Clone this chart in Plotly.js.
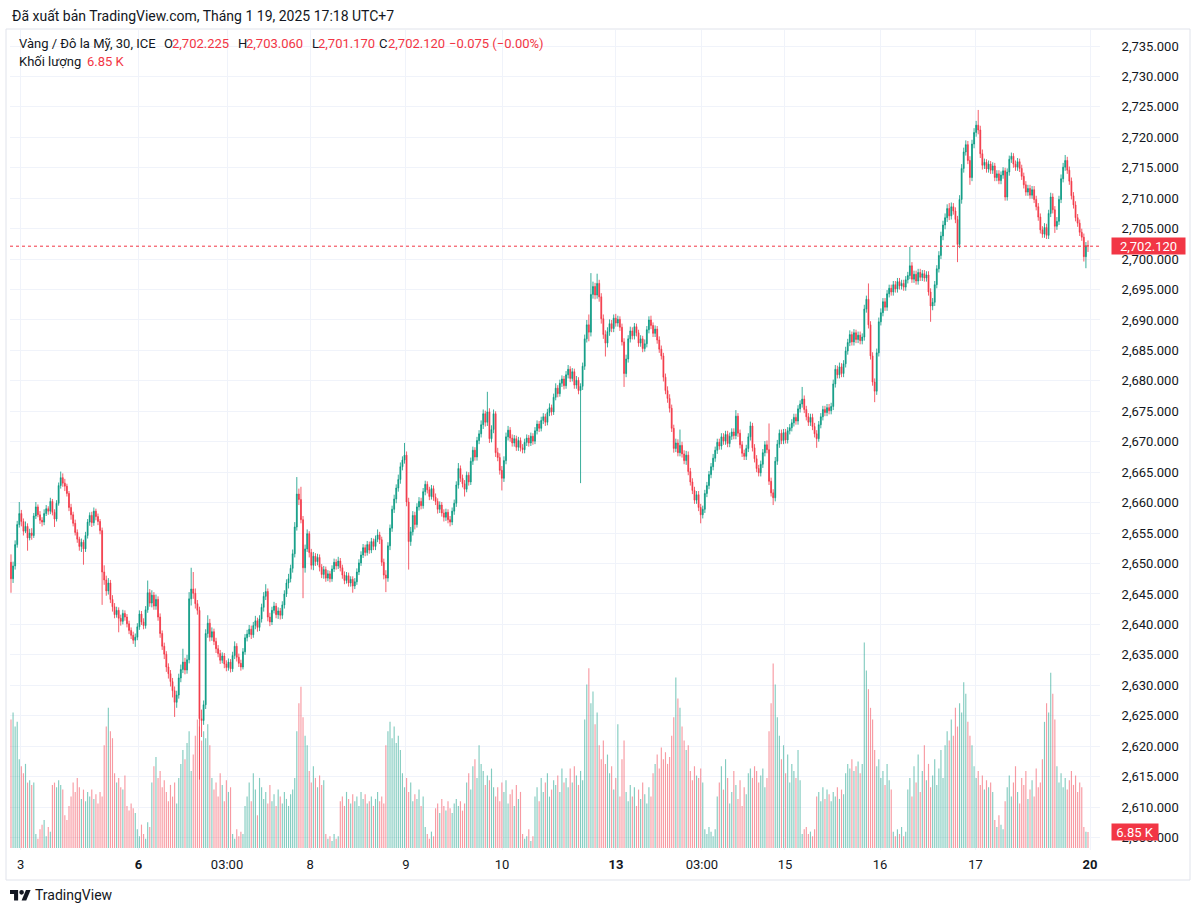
<!DOCTYPE html>
<html><head><meta charset="utf-8">
<script src="https://cdn.plot.ly/plotly-3.0.1.min.js"></script>
<style>html,body{margin:0;padding:0;background:#fff}#chart{width:1200px;height:913px}</style>
</head><body><div id="chart"></div>
<script>
// 30-minute candles, Vàng / Đô la Mỹ (ICE), 2–17 Jan 2025
const openP = [
2650.2,2647.5,2649.6,2653.1,2656.4,2658.2,2656.9,2655.3,2656.1,2654.2,
2655.0,2654.6,2657.8,2659.3,2658.0,2657.1,2656.8,2658.2,2659.0,2658.6,
2660.2,2658.4,2657.3,2659.9,2662.8,2664.1,2663.2,2662.7,2661.5,2659.2,
2658.0,2656.6,2655.1,2654.0,2652.8,2653.5,2652.4,2654.6,2656.8,2657.9,
2656.7,2658.6,2657.7,2656.9,2655.4,2648.6,2647.3,2645.5,2646.8,2644.1,
2642.9,2641.6,2642.3,2641.0,2640.5,2641.8,2641.2,2640.1,2639.0,2638.2,
2637.4,2637.9,2639.6,2641.7,2640.4,2639.8,2642.4,2645.2,2643.5,2644.8,
2643.0,2644.1,2641.2,2638.5,2636.4,2635.1,2633.0,2631.9,2630.6,2629.1,
2627.2,2628.4,2631.2,2632.6,2633.8,2632.5,2634.2,2644.2,2645.8,2645.1,
2643.4,2642.3,2624.5,2624.2,2626.8,2638.5,2640.2,2637.9,2638.8,2637.2,
2636.0,2635.2,2634.1,2634.8,2633.5,2632.9,2633.8,2632.7,2634.9,2636.4,
2634.6,2633.6,2633.0,2635.5,2637.8,2638.4,2639.2,2638.3,2639.8,2640.6,
2639.5,2640.9,2642.8,2644.6,2645.4,2641.2,2640.4,2642.3,2643.0,2641.6,
2642.2,2641.5,2643.2,2645.0,2646.8,2647.5,2649.2,2651.6,2656.0,2661.4,
2660.5,2657.2,2649.3,2652.4,2654.9,2651.8,2649.7,2651.2,2650.3,2651.0,
2649.4,2648.2,2649.0,2647.6,2648.3,2647.5,2649.1,2650.2,2649.6,2650.4,
2649.3,2648.1,2647.2,2648.0,2646.8,2647.4,2646.3,2647.0,2648.6,2650.1,
2651.4,2652.6,2651.8,2653.1,2652.2,2653.6,2652.8,2654.0,2654.7,2653.9,
2650.2,2648.1,2647.6,2652.9,2655.8,2658.9,2660.6,2662.4,2663.8,2665.9,
2667.0,2667.8,2660.1,2653.6,2655.2,2657.9,2656.4,2659.3,2660.2,2659.5,
2661.8,2663.0,2662.1,2661.0,2662.3,2660.9,2660.2,2658.9,2659.6,2658.3,
2657.6,2658.4,2657.2,2656.8,2658.6,2659.9,2662.9,2665.6,2664.0,2663.1,
2662.2,2664.5,2663.4,2666.8,2668.6,2667.5,2670.2,2671.3,2672.8,2674.6,
2673.2,2674.9,2670.5,2672.0,2674.6,2668.2,2667.4,2665.3,2664.0,2666.9,
2670.8,2671.9,2670.6,2669.8,2670.5,2669.1,2670.2,2669.0,2668.7,2669.9,
2670.6,2669.8,2670.9,2670.1,2671.8,2672.9,2672.2,2673.5,2674.1,2673.2,
2674.8,2675.6,2674.9,2677.3,2678.8,2677.9,2679.6,2680.3,2679.2,2681.0,
2681.9,2680.4,2681.5,2679.3,2680.1,2678.4,2679.1,2682.4,2686.9,2689.2,
2688.0,2694.2,2695.5,2694.1,2696.0,2693.8,2690.2,2687.6,2686.2,2688.1,
2689.4,2688.6,2690.3,2689.5,2690.1,2688.8,2686.4,2681.2,2683.6,2686.9,
2688.2,2687.4,2688.9,2687.9,2686.2,2686.9,2685.3,2686.1,2688.4,2690.0,
2689.1,2687.8,2688.5,2686.7,2685.2,2684.1,2680.6,2678.4,2677.1,2675.5,
2672.2,2668.9,2669.8,2668.2,2669.4,2668.0,2666.9,2667.8,2665.1,2663.4,
2662.0,2660.4,2661.3,2659.2,2658.0,2658.9,2661.5,2662.8,2664.6,2665.9,
2667.3,2668.6,2669.9,2669.3,2670.8,2670.1,2671.2,2669.7,2670.9,2671.6,
2671.0,2674.2,2671.4,2669.5,2668.1,2667.6,2668.9,2670.8,2672.6,2669.0,
2667.2,2665.6,2664.9,2666.3,2668.2,2669.5,2668.7,2663.5,2661.6,2660.8,
2666.8,2669.6,2671.4,2670.2,2671.5,2670.3,2671.8,2672.3,2673.1,2674.0,
2673.4,2675.4,2676.2,2677.0,2675.3,2674.1,2673.2,2674.0,2672.5,2671.3,
2670.5,2672.8,2674.1,2675.3,2674.8,2675.6,2675.1,2675.8,2679.5,2681.9,
2681.0,2682.3,2681.2,2682.8,2684.9,2686.3,2687.6,2686.4,2687.9,2686.8,
2687.5,2686.6,2687.2,2691.8,2693.4,2689.2,2684.1,2679.8,2678.3,2684.6,
2689.7,2691.2,2693.0,2692.1,2694.3,2695.2,2694.6,2695.8,2695.1,2696.3,
2695.6,2696.0,2695.4,2696.6,2697.3,2698.9,2696.7,2697.5,2696.4,2697.8,
2697.0,2697.6,2696.9,2697.4,2694.6,2692.3,2692.9,2695.8,2698.4,2700.6,
2703.8,2705.6,2706.8,2708.3,2707.1,2708.6,2707.9,2706.5,2702.4,2709.8,
2714.9,2717.6,2718.8,2716.2,2713.4,2718.9,2720.8,2722.0,2721.2,2717.3,
2715.4,2715.9,2714.8,2715.6,2714.6,2715.3,2713.4,2714.0,2712.9,2713.8,
2714.5,2710.2,2714.3,2716.4,2716.9,2715.6,2715.1,2716.0,2714.9,2713.6,
2712.2,2711.0,2711.6,2710.5,2711.4,2709.8,2708.6,2706.9,2704.8,2704.1,
2705.2,2703.9,2707.5,2710.2,2708.1,2705.4,2706.2,2709.8,2713.2,2715.1,
2716.2,2714.6,2712.8,2710.4,2708.9,2706.8,2705.9,2704.4,2703.6,2700.4,2702.225
];
const highP = [
2651.5,2650.3,2653.8,2657.0,2660.1,2658.8,2657.4,2656.9,2656.6,2655.7,
2655.8,2658.3,2660.1,2659.7,2658.6,2657.6,2658.9,2659.6,2659.4,2660.8,
2660.6,2658.9,2660.4,2663.3,2665.1,2664.8,2663.9,2663.1,2661.9,2659.8,
2658.5,2657.2,2655.6,2654.4,2654.1,2653.9,2655.2,2657.3,2658.4,2658.5,
2659.2,2659.0,2658.2,2657.3,2655.9,2649.7,2648.0,2647.6,2647.3,2644.8,
2643.5,2642.9,2642.8,2641.6,2642.4,2642.3,2641.7,2640.6,2639.5,2638.8,
2638.5,2640.2,2642.3,2642.2,2641.0,2643.0,2647.2,2645.8,2645.6,2645.3,
2644.9,2644.6,2641.8,2639.0,2637.0,2635.6,2633.6,2632.5,2631.2,2629.8,
2629.1,2631.9,2633.4,2636.0,2634.5,2635.0,2645.3,2649.3,2648.6,2645.9,
2644.0,2642.9,2626.0,2627.5,2639.2,2641.5,2640.9,2639.5,2639.3,2637.8,
2636.6,2635.8,2635.4,2635.3,2634.1,2634.4,2634.3,2635.5,2637.2,2636.9,
2635.2,2634.2,2636.1,2638.4,2639.1,2639.9,2639.8,2640.4,2641.4,2641.1,
2641.5,2643.4,2645.3,2646.6,2645.9,2641.9,2642.9,2643.7,2643.5,2642.8,
2642.7,2643.8,2645.6,2647.4,2648.3,2649.8,2652.3,2656.8,2664.2,2662.3,
2662.6,2657.8,2653.1,2655.6,2655.3,2652.4,2651.9,2651.7,2651.6,2651.5,
2649.9,2649.6,2649.5,2648.9,2648.8,2649.7,2650.8,2650.7,2651.1,2650.9,
2649.8,2648.7,2648.6,2648.5,2647.9,2647.9,2647.6,2649.2,2650.7,2652.0,
2653.2,2653.1,2653.7,2653.6,2654.2,2654.1,2654.6,2655.6,2655.2,2654.4,
2650.8,2648.9,2653.5,2656.4,2659.5,2661.3,2663.0,2664.6,2666.6,2667.6,
2669.8,2668.4,2660.8,2656.0,2658.6,2658.5,2659.9,2660.9,2660.8,2662.4,
2663.6,2663.5,2662.6,2662.9,2662.8,2661.5,2660.7,2660.2,2660.1,2658.9,
2659.0,2658.9,2657.8,2659.2,2660.5,2663.5,2666.5,2666.1,2664.6,2663.7,
2665.1,2665.0,2667.4,2669.2,2669.1,2670.8,2671.9,2673.5,2675.3,2675.1,
2678.2,2675.5,2672.7,2675.3,2675.0,2669.0,2668.1,2666.0,2667.6,2671.5,
2672.6,2672.4,2671.2,2671.1,2671.0,2670.8,2670.7,2669.6,2670.5,2671.2,
2671.1,2671.5,2671.4,2672.4,2673.5,2673.4,2674.1,2674.7,2674.6,2675.4,
2676.3,2676.1,2677.9,2679.6,2679.3,2680.2,2680.9,2680.8,2681.6,2682.6,
2682.4,2682.1,2682.0,2680.8,2680.6,2679.6,2683.0,2687.6,2690.0,2690.9,
2697.7,2696.3,2696.1,2697.6,2696.6,2694.4,2690.9,2688.3,2688.8,2690.1,
2690.0,2690.9,2691.0,2690.7,2690.6,2689.4,2687.0,2684.3,2687.5,2688.9,
2688.8,2689.5,2689.4,2688.4,2687.5,2687.4,2686.8,2689.0,2690.6,2690.7,
2689.6,2689.1,2689.0,2687.3,2685.8,2684.6,2681.2,2679.1,2677.8,2676.1,
2672.8,2670.5,2670.4,2672.0,2670.0,2668.6,2668.5,2668.4,2665.7,2664.0,
2662.6,2661.9,2661.9,2659.8,2659.5,2662.1,2663.4,2665.2,2666.5,2668.0,
2669.2,2670.5,2670.5,2671.4,2671.4,2671.8,2671.8,2671.5,2672.2,2672.2,
2675.2,2674.7,2672.0,2670.1,2668.7,2669.5,2671.4,2673.3,2673.1,2669.6,
2667.8,2666.2,2666.9,2668.8,2670.1,2670.2,2673.0,2664.1,2662.2,2667.5,
2670.3,2672.0,2672.0,2672.1,2672.1,2672.4,2672.9,2673.7,2674.6,2674.6,
2676.0,2676.8,2679.0,2677.6,2675.9,2674.7,2674.6,2674.6,2673.1,2671.9,
2673.4,2674.7,2675.9,2675.9,2676.2,2676.2,2676.4,2680.2,2682.6,2682.5,
2683.0,2682.9,2683.4,2685.6,2686.9,2688.3,2688.1,2688.5,2688.4,2688.1,
2688.1,2687.8,2692.5,2694.0,2696.0,2689.8,2684.7,2680.4,2685.3,2690.4,
2691.9,2693.6,2693.6,2694.9,2695.8,2695.8,2696.4,2696.4,2696.9,2696.9,
2696.6,2696.6,2697.2,2697.9,2702.0,2699.5,2698.1,2698.1,2698.4,2698.4,
2698.2,2698.2,2698.0,2698.0,2695.2,2693.6,2696.4,2699.0,2701.3,2704.5,
2706.3,2707.5,2709.0,2709.2,2709.3,2709.2,2708.5,2707.1,2710.5,2715.6,
2718.3,2719.5,2719.4,2716.9,2719.6,2721.5,2722.7,2724.5,2721.9,2718.0,
2716.5,2716.4,2716.2,2716.1,2715.9,2715.8,2714.6,2714.6,2714.4,2715.1,
2715.0,2714.9,2717.0,2717.5,2717.4,2716.2,2716.6,2716.5,2715.5,2714.2,
2712.8,2712.2,2712.2,2712.0,2712.0,2710.4,2709.2,2707.5,2705.4,2705.9,
2705.8,2708.1,2710.9,2710.8,2708.7,2706.9,2710.4,2713.9,2715.8,2717.1,
2716.8,2715.2,2713.4,2711.0,2709.5,2707.4,2706.5,2705.0,2704.2,2702.8,2703.06
];
const lowP = [
2645.2,2646.8,2649.0,2652.6,2655.9,2656.1,2654.6,2655.0,2652.1,2653.8,
2653.9,2654.2,2657.3,2657.6,2656.5,2656.1,2656.3,2657.8,2658.0,2658.1,
2657.9,2656.0,2656.9,2659.5,2662.3,2662.6,2661.9,2661.0,2658.6,2657.2,
2656.1,2654.6,2653.4,2652.1,2651.9,2649.8,2651.9,2654.1,2656.2,2656.0,
2656.2,2657.1,2656.3,2654.8,2643.2,2646.5,2644.7,2644.9,2643.5,2642.1,
2641.0,2641.1,2638.7,2639.8,2640.0,2640.6,2639.5,2638.4,2637.6,2636.8,
2636.3,2637.4,2639.1,2639.9,2639.2,2639.3,2641.9,2642.9,2642.8,2642.4,
2642.4,2640.6,2637.8,2635.8,2634.3,2632.2,2631.1,2629.8,2628.0,2624.8,
2626.3,2627.8,2630.5,2632.0,2631.8,2631.9,2633.6,2643.1,2644.2,2642.6,
2641.6,2614.5,2621.5,2623.5,2626.1,2637.8,2637.2,2637.3,2636.6,2635.3,
2634.6,2633.5,2633.6,2632.8,2632.3,2632.4,2632.1,2632.2,2634.3,2633.9,
2633.0,2632.4,2632.6,2635.0,2637.2,2637.9,2637.6,2637.8,2639.2,2638.8,
2638.9,2640.3,2642.1,2644.0,2640.5,2639.7,2639.9,2641.8,2641.0,2640.9,
2640.8,2640.9,2642.6,2644.5,2645.9,2646.9,2648.5,2651.0,2655.4,2659.6,
2656.6,2644.3,2648.5,2651.9,2651.0,2649.0,2648.9,2649.6,2649.7,2648.7,
2647.6,2647.5,2647.0,2647.1,2646.9,2647.0,2648.6,2649.0,2649.1,2648.7,
2647.5,2646.6,2646.7,2646.2,2646.2,2645.2,2645.8,2646.5,2648.1,2649.6,
2650.9,2651.2,2651.3,2651.6,2651.7,2652.2,2652.2,2653.5,2653.2,2649.6,
2647.4,2645.3,2647.0,2652.2,2655.2,2658.3,2659.9,2661.8,2663.1,2665.3,
2666.4,2659.4,2649.0,2652.9,2654.6,2655.6,2655.9,2658.7,2658.9,2659.0,
2661.2,2661.5,2660.4,2660.5,2660.3,2659.6,2658.2,2658.3,2657.7,2656.9,
2657.0,2656.6,2656.1,2656.3,2658.0,2659.3,2662.3,2663.4,2662.5,2661.0,
2661.7,2662.8,2662.9,2666.2,2666.9,2666.9,2669.6,2670.7,2672.1,2672.5,
2672.6,2669.8,2669.9,2671.4,2667.5,2666.8,2664.6,2662.0,2663.4,2666.3,
2670.2,2670.0,2669.2,2669.2,2668.5,2668.5,2668.4,2668.1,2668.1,2669.3,
2669.2,2669.3,2669.5,2669.6,2671.2,2671.6,2671.7,2672.9,2672.6,2672.7,
2674.2,2674.3,2674.4,2676.8,2677.3,2677.4,2679.0,2678.6,2678.7,2680.4,
2679.8,2679.9,2678.7,2678.7,2677.8,2663.2,2678.5,2681.8,2686.3,2686.5,
2687.3,2693.5,2693.4,2693.5,2693.0,2689.4,2686.9,2684.0,2685.5,2687.4,
2688.0,2688.0,2688.9,2688.9,2688.2,2685.8,2679.0,2680.6,2683.0,2686.3,
2686.8,2686.8,2687.3,2685.6,2685.6,2684.7,2684.8,2685.5,2687.8,2688.5,
2687.2,2687.2,2686.1,2684.6,2683.5,2679.9,2677.8,2676.4,2674.8,2671.6,
2668.2,2668.3,2667.6,2667.6,2667.4,2666.3,2666.2,2664.5,2662.8,2661.4,
2659.8,2659.8,2658.6,2656.6,2657.4,2658.3,2660.9,2662.2,2664.0,2665.3,
2666.7,2668.0,2668.7,2668.7,2669.5,2669.5,2669.1,2669.1,2670.3,2670.4,
2670.4,2670.8,2668.9,2667.5,2667.0,2667.0,2668.3,2670.2,2668.4,2666.6,
2665.0,2664.3,2664.3,2665.7,2667.6,2668.1,2662.9,2661.0,2659.6,2660.2,
2666.2,2669.0,2669.6,2669.6,2669.7,2669.7,2671.2,2671.7,2672.5,2672.8,
2672.8,2674.8,2675.6,2674.7,2673.5,2672.6,2672.6,2671.9,2670.7,2669.0,
2670.0,2672.2,2673.5,2674.2,2674.2,2674.5,2674.5,2675.2,2678.9,2680.4,
2680.4,2680.6,2680.6,2682.2,2684.3,2685.7,2685.8,2685.8,2686.2,2686.2,
2686.0,2686.0,2686.6,2691.2,2688.6,2683.5,2679.2,2676.5,2677.7,2684.0,
2689.1,2690.6,2691.5,2691.5,2693.7,2694.0,2694.0,2694.5,2694.5,2695.0,
2695.0,2694.8,2694.8,2696.0,2696.7,2696.1,2696.1,2695.8,2695.8,2696.4,
2696.4,2696.3,2696.3,2694.0,2689.7,2691.6,2692.3,2695.2,2697.8,2700.0,
2703.1,2704.9,2706.1,2706.4,2706.5,2707.3,2705.9,2699.5,2701.8,2709.1,
2714.2,2717.0,2715.6,2712.2,2712.8,2718.2,2720.1,2720.5,2716.6,2714.7,
2714.8,2714.2,2714.2,2714.0,2714.0,2712.8,2712.8,2712.3,2712.3,2713.2,
2709.6,2709.6,2713.7,2715.8,2715.0,2714.5,2714.5,2714.3,2713.0,2711.6,
2710.4,2710.4,2709.9,2709.9,2709.2,2708.0,2706.3,2704.2,2703.5,2703.5,
2703.3,2703.3,2706.9,2707.5,2704.3,2704.8,2705.6,2709.2,2712.6,2714.5,
2714.0,2712.2,2709.8,2708.3,2706.2,2705.3,2703.8,2703.0,2699.6,2698.5,2701.17
];
const closeP = [
2647.5,2649.6,2653.1,2656.4,2658.2,2656.9,2655.3,2656.1,2654.2,2655.0,
2654.6,2657.8,2659.3,2658.0,2657.1,2656.8,2658.2,2659.0,2658.6,2660.2,
2658.4,2657.3,2659.9,2662.8,2664.1,2663.2,2662.7,2661.5,2659.2,2658.0,
2656.6,2655.1,2654.0,2652.8,2653.5,2652.4,2654.6,2656.8,2657.9,2656.7,
2658.6,2657.7,2656.9,2655.4,2648.6,2647.3,2645.5,2646.8,2644.1,2642.9,
2641.6,2642.3,2641.0,2640.5,2641.8,2641.2,2640.1,2639.0,2638.2,2637.4,
2637.9,2639.6,2641.7,2640.4,2639.8,2642.4,2645.2,2643.5,2644.8,2643.0,
2644.1,2641.2,2638.5,2636.4,2635.1,2633.0,2631.9,2630.6,2629.1,2627.2,
2628.4,2631.2,2632.6,2633.8,2632.5,2634.2,2644.2,2645.8,2645.1,2643.4,
2642.3,2624.5,2624.2,2626.8,2638.5,2640.2,2637.9,2638.8,2637.2,2636.0,
2635.2,2634.1,2634.8,2633.5,2632.9,2633.8,2632.7,2634.9,2636.4,2634.6,
2633.6,2633.0,2635.5,2637.8,2638.4,2639.2,2638.3,2639.8,2640.6,2639.5,
2640.9,2642.8,2644.6,2645.4,2641.2,2640.4,2642.3,2643.0,2641.6,2642.2,
2641.5,2643.2,2645.0,2646.8,2647.5,2649.2,2651.6,2656.0,2661.4,2660.5,
2657.2,2649.3,2652.4,2654.9,2651.8,2649.7,2651.2,2650.3,2651.0,2649.4,
2648.2,2649.0,2647.6,2648.3,2647.5,2649.1,2650.2,2649.6,2650.4,2649.3,
2648.1,2647.2,2648.0,2646.8,2647.4,2646.3,2647.0,2648.6,2650.1,2651.4,
2652.6,2651.8,2653.1,2652.2,2653.6,2652.8,2654.0,2654.7,2653.9,2650.2,
2648.1,2647.6,2652.9,2655.8,2658.9,2660.6,2662.4,2663.8,2665.9,2667.0,
2667.8,2660.1,2653.6,2655.2,2657.9,2656.4,2659.3,2660.2,2659.5,2661.8,
2663.0,2662.1,2661.0,2662.3,2660.9,2660.2,2658.9,2659.6,2658.3,2657.6,
2658.4,2657.2,2656.8,2658.6,2659.9,2662.9,2665.6,2664.0,2663.1,2662.2,
2664.5,2663.4,2666.8,2668.6,2667.5,2670.2,2671.3,2672.8,2674.6,2673.2,
2674.9,2670.5,2672.0,2674.6,2668.2,2667.4,2665.3,2664.0,2666.9,2670.8,
2671.9,2670.6,2669.8,2670.5,2669.1,2670.2,2669.0,2668.7,2669.9,2670.6,
2669.8,2670.9,2670.1,2671.8,2672.9,2672.2,2673.5,2674.1,2673.2,2674.8,
2675.6,2674.9,2677.3,2678.8,2677.9,2679.6,2680.3,2679.2,2681.0,2681.9,
2680.4,2681.5,2679.3,2680.1,2678.4,2679.1,2682.4,2686.9,2689.2,2688.0,
2694.2,2695.5,2694.1,2696.0,2693.8,2690.2,2687.6,2686.2,2688.1,2689.4,
2688.6,2690.3,2689.5,2690.1,2688.8,2686.4,2681.2,2683.6,2686.9,2688.2,
2687.4,2688.9,2687.9,2686.2,2686.9,2685.3,2686.1,2688.4,2690.0,2689.1,
2687.8,2688.5,2686.7,2685.2,2684.1,2680.6,2678.4,2677.1,2675.5,2672.2,
2668.9,2669.8,2668.2,2669.4,2668.0,2666.9,2667.8,2665.1,2663.4,2662.0,
2660.4,2661.3,2659.2,2658.0,2658.9,2661.5,2662.8,2664.6,2665.9,2667.3,
2668.6,2669.9,2669.3,2670.8,2670.1,2671.2,2669.7,2670.9,2671.6,2671.0,
2674.2,2671.4,2669.5,2668.1,2667.6,2668.9,2670.8,2672.6,2669.0,2667.2,
2665.6,2664.9,2666.3,2668.2,2669.5,2668.7,2663.5,2661.6,2660.8,2666.8,
2669.6,2671.4,2670.2,2671.5,2670.3,2671.8,2672.3,2673.1,2674.0,2673.4,
2675.4,2676.2,2677.0,2675.3,2674.1,2673.2,2674.0,2672.5,2671.3,2670.5,
2672.8,2674.1,2675.3,2674.8,2675.6,2675.1,2675.8,2679.5,2681.9,2681.0,
2682.3,2681.2,2682.8,2684.9,2686.3,2687.6,2686.4,2687.9,2686.8,2687.5,
2686.6,2687.2,2691.8,2693.4,2689.2,2684.1,2679.8,2678.3,2684.6,2689.7,
2691.2,2693.0,2692.1,2694.3,2695.2,2694.6,2695.8,2695.1,2696.3,2695.6,
2696.0,2695.4,2696.6,2697.3,2698.9,2696.7,2697.5,2696.4,2697.8,2697.0,
2697.6,2696.9,2697.4,2694.6,2692.3,2692.9,2695.8,2698.4,2700.6,2703.8,
2705.6,2706.8,2708.3,2707.1,2708.6,2707.9,2706.5,2702.4,2709.8,2714.9,
2717.6,2718.8,2716.2,2713.4,2718.9,2720.8,2722.0,2721.2,2717.3,2715.4,
2715.9,2714.8,2715.6,2714.6,2715.3,2713.4,2714.0,2712.9,2713.8,2714.5,
2710.2,2714.3,2716.4,2716.9,2715.6,2715.1,2716.0,2714.9,2713.6,2712.2,
2711.0,2711.6,2710.5,2711.4,2709.8,2708.6,2706.9,2704.8,2704.1,2705.2,
2703.9,2707.5,2710.2,2708.1,2705.4,2706.2,2709.8,2713.2,2715.1,2716.2,
2714.6,2712.8,2710.4,2708.9,2706.8,2705.9,2704.4,2703.6,2700.4,2702.195,2702.12
];
// volume, thousands
const volumeK = [
55,58,52,54,38,35,32,36,28,29,27,28,6,4,8,10,12,5,9,7,
27,28,26,29,27,25,14,12,18,22,28,24,30,26,21,25,
20,24,22,25,21,23,19,24,22,44,52,60,50,47,
32,28,30,26,25,31,18,16,19,17,15,8,5,10,6,4,11,9,
28,35,39,30,33,26,29,24,20,27,22,28,19,
30,36,42,38,45,50,33,40,48,55,52,46,50,47,53,44,
30,25,28,22,32,27,20,29,24,26,6,4,8,5,7,6,
18,22,28,20,32,25,14,30,26,21,24,19,27,
20,23,18,25,22,19,24,21,18,23,25,30,
50,62,69,56,48,44,33,28,35,30,26,31,27,29,6,4,5,3,6,4,5,
20,22,18,24,21,19,23,20,22,18,24,21,23,19,20,22,18,21,24,20,22,19,
44,50,54,47,52,45,48,42,32,26,30,24,28,20,23,21,25,18,22,9,6,4,7,5,
17,19,15,21,18,16,20,17,15,19,21,18,20,16,19,
28,32,25,35,38,30,44,36,33,27,31,29,34,26,
22,26,20,28,24,29,19,23,25,18,27,21,24,6,4,5,8,3,5,
22,26,20,30,24,28,32,22,25,29,27,31,24,34,28,
30,26,34,28,35,31,27,33,29,55,70,77,62,67,53,58,44,38,46,36,40,32,35,25,30,53,22,38,46,
24,20,27,22,26,18,25,21,28,23,19,26,22,32,36,40,34,43,38,41,36,39,
48,56,73,64,60,52,46,42,44,33,29,35,31,30,34,28,8,6,9,7,5,8,
22,28,35,25,38,30,19,24,33,27,21,29,18,26,23,32,34,30,35,33,28,31,34,26,30,
50,62,79,70,56,48,38,44,32,40,28,36,33,30,42,29,6,8,9,6,7,5,8,
22,24,20,26,21,25,23,20,24,22,26,21,25,23,32,36,34,38,33,35,37,32,36,
88,76,68,60,55,42,35,38,30,33,27,36,29,25,7,5,8,6,9,5,7,
25,30,22,35,28,40,24,33,44,29,36,26,31,38,27,34,42,30,
44,50,46,55,48,60,52,62,58,71,66,54,48,44,35,30,33,27,31,25,29,26,28,24,12,9,14,10,8,
20,26,31,22,28,35,24,19,30,27,33,21,25,29,22,34,26,28,
38,54,62,58,75,66,55,35,28,32,26,30,25,29,33,27,31,24,28,26,9,7,6.85
];
const tickLabels = ['3','<b>6</b>','03:00','8','9','10','<b>13</b>','03:00','15','16','17','<b>20</b>'];
const tickIndex  = [4.7, 61.6, 104.3, 144.4, 190.7, 237.1, 292.1, 333.6, 373.7, 419.6, 465.7, 521.0];

const UP = '#089981', DN = '#F23645', TXT = '#131722';
const F = 'Roboto, "Liberation Sans", Arial, sans-serif';
const idx = closeP.map((_, i) => i);
const last = closeP.length - 1;
const volColors = closeP.map((c, i) => c >= openP[i] ? 'rgba(8,153,129,0.5)' : 'rgba(242,54,69,0.5)');
const fmt = v => v.toLocaleString('en-US', {minimumFractionDigits: 3, maximumFractionDigits: 3});
const chg = closeP[last] - closeP[last - 1];
const sgn = chg < 0 ? '\u2212' : '+';
const chgText = sgn + Math.abs(chg).toFixed(3) + ' (' + sgn + Math.abs(chg / closeP[last - 1] * 100).toFixed(2) + '%)';

// pixel -> paper helpers (plot area x 10..1100, y 30..850)
const X = px => (px - 10) / 1090;
const Y = py => (850 - py) / 820;
function txt(text, px, py, color, size, extra) {
  return Object.assign({text: text, xref: 'paper', yref: 'paper', x: X(px), y: Y(py), xanchor: 'left', yanchor: 'middle',
    showarrow: false, borderpad: 0, font: {family: F, size: size || 13, color: color || TXT}}, extra || {});
}
function pathOf(pts) { return 'M' + pts.map(p => X(p[0]).toFixed(5) + ',' + Y(p[1]).toFixed(5)).join(' L') + ' Z'; }
const lg = (u, v) => [10 + u * 0.58, 890 + (v - 4) * 0.58];

const traces = [
  {type: 'bar', x: idx, y: volumeK, xaxis: 'x', yaxis: 'y', width: 0.55,
   marker: {color: volColors, line: {width: 0}}, hoverinfo: 'skip'},
  {type: 'candlestick', x: idx, open: openP, high: highP, low: lowP, close: closeP, xaxis: 'x', yaxis: 'y2',
   whiskerwidth: 0,
   increasing: {line: {color: UP, width: 0.8}, fillcolor: UP},
   decreasing: {line: {color: DN, width: 0.8}, fillcolor: DN},
   hoverinfo: 'skip'}
];

const layout = {
  width: 1200, height: 913,
  margin: {l: 10, r: 100, t: 30, b: 63},
  paper_bgcolor: '#ffffff', plot_bgcolor: '#ffffff',
  showlegend: false, boxgap: 0.4,
  font: {family: F, color: TXT, size: 13},
  xaxis: {type: 'linear', range: [-0.48, 525.8], tickmode: 'array', tickvals: tickIndex, ticktext: tickLabels,
    showgrid: true, gridcolor: '#f0f3fa', gridwidth: 1, zeroline: false, showline: false,
    ticks: 'outside', ticklen: 2, tickcolor: 'rgba(0,0,0,0)', tickfont: {family: F, size: 13, color: TXT},
    rangeslider: {visible: false}, fixedrange: true},
  yaxis: {range: [-0.86, 350.2], visible: false, fixedrange: true},
  yaxis2: {overlaying: 'y', side: 'right', range: [2602.94, 2737.63], tickmode: 'linear', tick0: 2600, dtick: 5,
    tickformat: ',.3f', showgrid: true, gridcolor: '#f0f3fa', gridwidth: 1, zeroline: false, showline: false,
    ticks: 'outside', ticklen: 18, tickcolor: 'rgba(0,0,0,0)', tickfont: {family: F, size: 13, color: TXT}, fixedrange: true},
  shapes: [
    {type: 'rect', xref: 'paper', yref: 'paper', x0: X(6), x1: X(1190), y0: Y(880), y1: Y(29),
     line: {color: '#e0e3eb', width: 1}, fillcolor: 'rgba(0,0,0,0)', layer: 'below'},
    {type: 'line', xref: 'paper', yref: 'y2', x0: 0, x1: 1, y0: closeP[last], y1: closeP[last],
     line: {color: DN, width: 1, dash: 'dot'}},
    {type: 'path', xref: 'paper', yref: 'paper', path: pathOf([lg(14,22), lg(7,22), lg(7,11), lg(0,11), lg(0,4), lg(14,4)]),
     fillcolor: TXT, line: {width: 0}},
    {type: 'path', xref: 'paper', yref: 'paper', path: pathOf([lg(28,22), lg(20,22), lg(27.5,4), lg(35.5,4)]),
     fillcolor: TXT, line: {width: 0}},
    {type: 'circle', xref: 'paper', yref: 'paper', x0: X(lg(16,4)[0]), x1: X(lg(24,4)[0]), y0: Y(lg(0,4)[1]), y1: Y(lg(0,12)[1]),
     fillcolor: TXT, line: {width: 0}}
  ],
  annotations: [
    txt('Đã xuất bản TradingView.com, Tháng 1 19, 2025 17:18 UTC+7', 11, 16, TXT, 14),
    txt('Vàng / Đô la Mỹ, 30, ICE', 18, 43),
    txt('O', 162.6, 43), txt(fmt(openP[last]), 171, 43, DN),
    txt('H', 237, 43), txt(fmt(highP[last]), 245, 43, DN),
    txt('L', 311, 43), txt(fmt(lowP[last]), 317, 43, DN),
    txt('C', 378, 43), txt(fmt(closeP[last]), 387, 43, DN),
    txt(chgText, 448, 43, DN),
    txt('Khối lượng', 18, 61), txt(volumeK[last].toFixed(2) + ' K', 86, 61, DN),
    txt('TradingView', 34, 895, TXT, 14),
    {text: fmt(closeP[last]), xref: 'paper', yref: 'y2', x: X(1111), y: closeP[last], xanchor: 'left', yanchor: 'middle',
     showarrow: false, bgcolor: DN, borderpad: 0, width: 73, height: 16, align: 'center',
     font: {family: F, size: 13, color: '#ffffff'}},
    {text: volumeK[last].toFixed(2) + ' K', xref: 'paper', yref: 'y', x: X(1111), y: volumeK[last], xanchor: 'left', yanchor: 'middle',
     showarrow: false, bgcolor: DN, borderpad: 0, width: 46, height: 16, align: 'center',
     font: {family: F, size: 13, color: '#ffffff'}}
  ]
};

Plotly.newPlot('chart', traces, layout, {staticPlot: true, displayModeBar: false});
</script>
</body></html>
